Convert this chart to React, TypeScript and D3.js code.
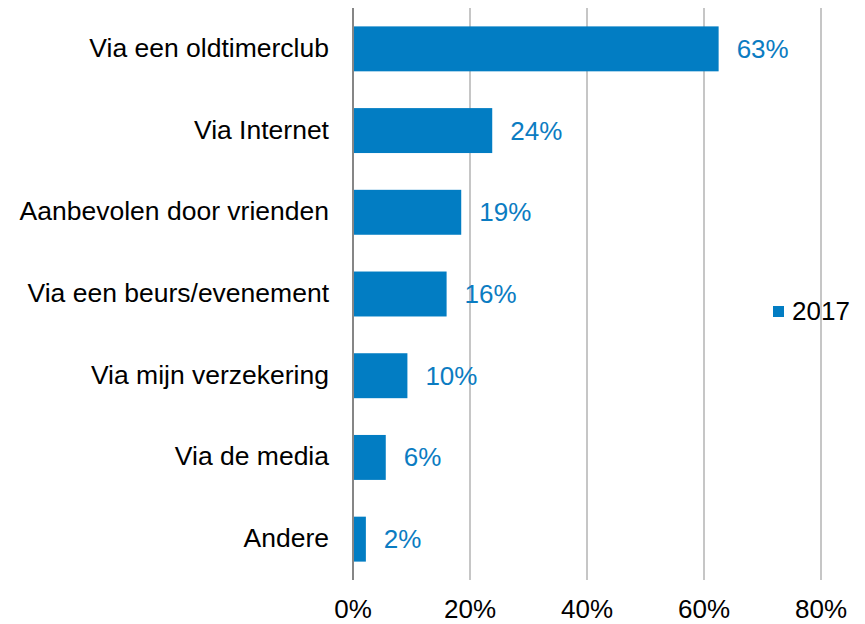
import { useRef, useEffect } from "react";
import * as d3 from "d3";

const categories = [
  "Via een oldtimerclub",
  "Via Internet",
  "Aanbevolen door vrienden",
  "Via een beurs/evenement",
  "Via mijn verzekering",
  "Via de media",
  "Andere",
];
const values = [62.5, 23.8, 18.5, 16.0, 9.3, 5.6, 2.2];
const valueLabels = ["63%", "24%", "19%", "16%", "10%", "6%", "2%"];
const ticks = [0, 20, 40, 60, 80];
const seriesName = "2017";

const WIDTH = 865;
const HEIGHT = 624;
const FONT = "Arial, 'Liberation Sans', sans-serif";
const FS = 26;
const BLUE = "#027DC3";

export default function App() {
  const svgRef = useRef<SVGSVGElement>(null);

  useEffect(() => {
    drawChart();
  }, []);

  function drawChart() {
    if (!svgRef.current) return;
    const svg = d3.select(svgRef.current);
    svg.selectAll("*").remove();

    const x = d3.scaleLinear().domain([0, 80]).range([353, 821]);
    const y = d3
      .scaleBand<string>()
      .domain(categories)
      .range([8, 580])
      .paddingInner(0.45)
      .paddingOuter(0.225);

    // legend (gridline passes over it)
    const legend = svg.append("g");
    legend
      .append("rect")
      .attr("x", 773)
      .attr("y", 306)
      .attr("width", 11)
      .attr("height", 11)
      .attr("fill", BLUE);
    legend
      .append("text")
      .attr("x", 792)
      .attr("y", 320)
      .attr("font-family", FONT)
      .attr("font-size", FS)
      .attr("fill", "#000")
      .text(seriesName);

    // gridlines
    svg
      .append("g")
      .selectAll("line")
      .data(ticks.filter((t) => t > 0))
      .enter()
      .append("line")
      .attr("x1", (d) => x(d))
      .attr("x2", (d) => x(d))
      .attr("y1", 8)
      .attr("y2", 580)
      .attr("stroke", "#C6C6C6")
      .attr("stroke-width", 2);

    // bars
    svg
      .append("g")
      .selectAll("rect")
      .data(values)
      .enter()
      .append("rect")
      .attr("x", x(0))
      .attr("y", (_, i) => y(categories[i])!)
      .attr("width", (d) => x(d) - x(0))
      .attr("height", y.bandwidth())
      .attr("fill", BLUE);

    // axis line
    svg
      .append("line")
      .attr("x1", x(0))
      .attr("x2", x(0))
      .attr("y1", 8)
      .attr("y2", 580)
      .attr("stroke", "#868686")
      .attr("stroke-width", 2);

    // value labels
    svg
      .append("g")
      .selectAll("text")
      .data(values)
      .enter()
      .append("text")
      .attr("x", (d) => x(d) + 18)
      .attr("y", (_, i) => y(categories[i])! + y.bandwidth() / 2 + 9)
      .attr("font-family", FONT)
      .attr("font-size", FS)
      .attr("fill", "#0B7CC2")
      .text((_, i) => valueLabels[i]);

    // category labels
    svg
      .append("g")
      .selectAll("text")
      .data(categories)
      .enter()
      .append("text")
      .attr("x", 329)
      .attr("y", (d) => y(d)! + y.bandwidth() / 2 + 8)
      .attr("text-anchor", "end")
      .attr("font-family", FONT)
      .attr("font-size", 26.5)
      .attr("fill", "#000")
      .text((d) => d);

    // tick labels
    svg
      .append("g")
      .selectAll("text")
      .data(ticks)
      .enter()
      .append("text")
      .attr("x", (d) => x(d))
      .attr("y", 618)
      .attr("text-anchor", "middle")
      .attr("font-family", FONT)
      .attr("font-size", FS)
      .attr("fill", "#000")
      .text((d) => `${d}%`);
  }

  return (
    <svg
      ref={svgRef}
      width={WIDTH}
      height={HEIGHT}
      style={{ position: "absolute", left: 0, top: 0, background: "#fff" }}
    />
  );
}
